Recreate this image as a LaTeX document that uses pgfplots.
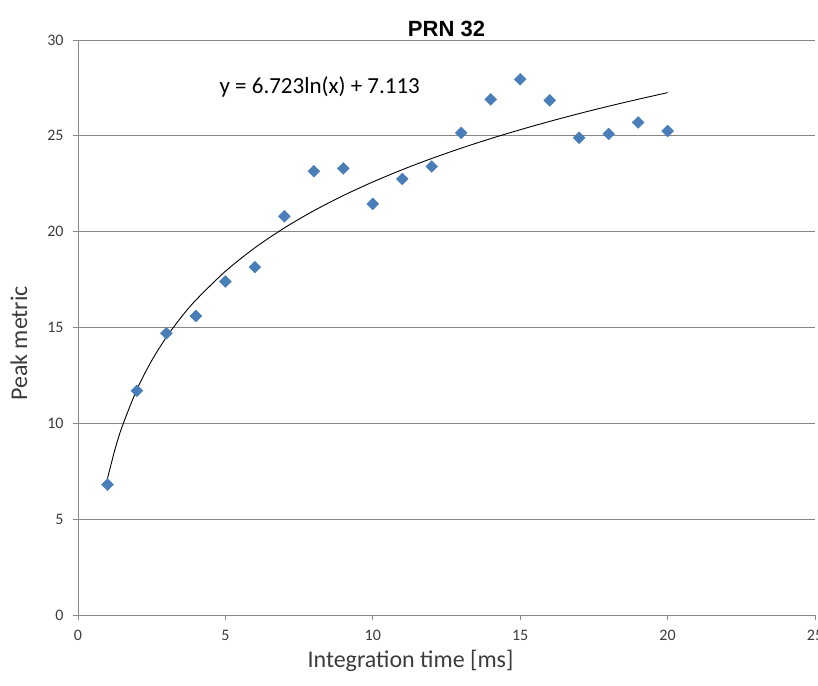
\documentclass[border=0pt]{standalone}
\usepackage{fontspec}
\setmainfont{Carlito}
\newfontfamily\arialfont{Liberation Sans}
\usepackage{pgfplots}
\pgfplotsset{compat=1.18}
\definecolor{xlblue}{RGB}{74,126,185}
\definecolor{gridgray}{RGB}{134,134,134}
\definecolor{ticktxt}{RGB}{60,60,60}
\begin{document}
\begin{tikzpicture}
\begin{axis}[
  at={(0,0)}, anchor=south west,
  scale only axis=true,
  width=737bp, height=575bp,
  xmin=0, xmax=25, ymin=0, ymax=30,
  xtick={0,5,...,25}, ytick={0,5,...,30},
  axis x line*=bottom, axis y line*=left,
  axis line style={gridgray, line width=0.9bp},
  ymajorgrids=true,
  grid style={gridgray, line width=0.9bp},
  tick align=outside,
  major tick length=5bp,
  tick style={gridgray, line width=0.9bp},
  /pgf/number format/assume math mode=true,
  ticklabel style={font=\fontsize{16bp}{18bp}\selectfont, text=ticktxt},
  xticklabel style={yshift=-7bp},
  yticklabel style={xshift=-6bp},
  xlabel={Integration time [ms]},
  ylabel={Peak metric},
  label style={font=\fontsize{24bp}{28bp}\selectfont, text=ticktxt},
  xlabel style={xshift=-36bp, yshift=-2bp},
  ylabel style={yshift=13bp, xshift=-16bp},
  title={\arialfont\bfseries PRN 32},
  title style={font=\fontsize{22bp}{26bp}\selectfont, yshift=-6bp},
  clip=false,
]
\addplot[only marks, mark=square*, mark size=4.2bp, color=xlblue, mark options={draw=xlblue, fill=xlblue, rotate=45}] coordinates {
(1,6.8) (2,11.7) (3,14.7) (4,15.6) (5,17.4) (6,18.15) (7,20.8) (8,23.15)
(9,23.3) (10,21.45) (11,22.75) (12,23.4) (13,25.15) (14,26.9) (15,27.95)
(16,26.85) (17,24.9) (18,25.1) (19,25.7) (20,25.25)
};
\addplot[black, line width=0.9bp, smooth] coordinates {
(1,7.113) (1.25,8.613) (1.5,9.839) (2,11.773) (2.5,13.273) (3,14.499) (3.5,15.535)
(4,16.433) (5,17.933) (6,19.159) (7,20.195) (8,21.093) (9,21.885) (10,22.593)
(11,23.234) (12,23.819) (13,24.357) (14,24.856) (15,25.319) (16,25.753)
(17,26.161) (18,26.545) (19,26.908) (20,27.253)
};
\node[font=\fontsize{23bp}{26bp}\selectfont, text=black] at (axis cs:8.2,27.55) {y = 6.723ln(x) + 7.113};
\end{axis}
\pgfresetboundingbox
\path[use as bounding box] (-78bp,-71bp) rectangle (740bp,615bp);
\end{tikzpicture}
\end{document}
